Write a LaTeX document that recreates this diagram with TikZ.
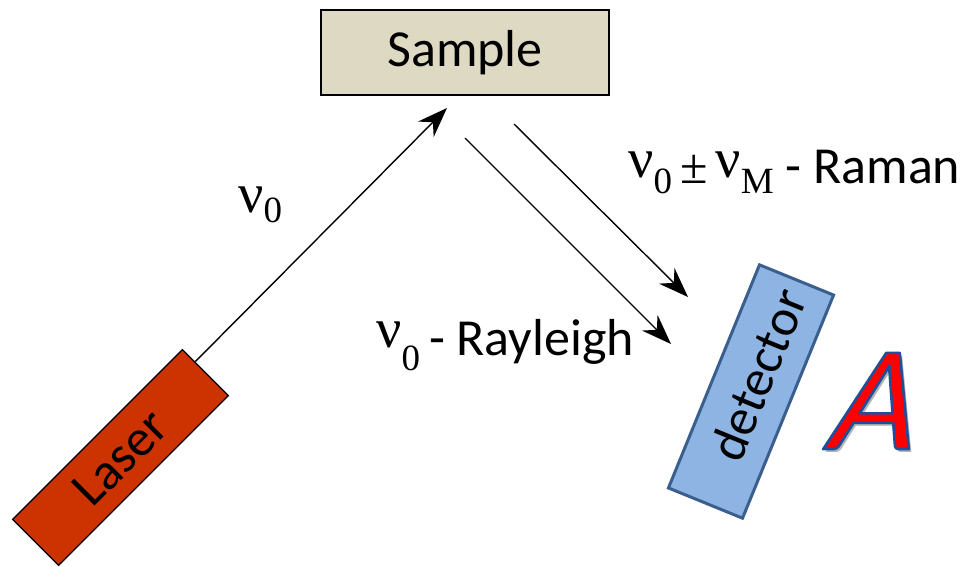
\documentclass[tikz,border=0pt]{standalone}
\usepackage{fontspec}
\setmainfont{Carlito}
\newfontfamily\tnr{Liberation Serif}
\newfontfamily\aitfont[FakeSlant=0.28]{Carlito}
\usetikzlibrary{arrows.meta,calc}
\definecolor{laserred}{HTML}{CC3300}
\definecolor{sampfill}{HTML}{DDD9C3}
\definecolor{detfill}{HTML}{8EB4E3}
\definecolor{detline}{HTML}{3B5F8D}
\definecolor{aout}{HTML}{1F4E9A}
\newcommand\nuglyph{{\tnr\fontsize{56}{60}\selectfont ν}}
\newcommand\subsc[1]{{\tnr\fontsize{37}{40}\selectfont #1}}
\newcommand\outlinedA{\special{pdf:literal direct 0.12 0.31 0.6 RG 2.6 w 1 j 2 Tr}A\special{pdf:literal direct 0 Tr}}
\begin{document}
\begin{tikzpicture}[x=1pt,y=-1pt,
  lbl/.style={font=\fontsize{52}{60}\selectfont, inner sep=0pt, anchor=base west},
  ray/.style={line width=1.4pt, -{Stealth[length=30pt,width=22pt,inset=10pt]}},
  boxtext/.style={font=\fontsize{52}{60}\selectfont, inner sep=0pt},
  bigA/.style={font=\aitfont\fontsize{150}{160}\selectfont, inner sep=0pt}]
\useasboundingbox (0,0) rectangle (961,566);
% Sample
\node[boxtext, draw=black, line width=1.5pt, fill=sampfill, minimum width=288pt, minimum height=85pt] (sample) at (465,52.5) {Sample};
% Laser
\node[boxtext, draw=black, line width=1.2pt, fill=laserred, minimum width=240pt, minimum height=65pt, rotate=45] (laser) at (120.5,457.5) {Laser};
% Detector
\node[boxtext, draw=detline, line width=3pt, fill=detfill, minimum width=241pt, minimum height=80pt, rotate=67.8] (det) at (751,391.5) {\hspace*{36pt}detector};
% coordinates
\coordinate (lstart) at ($(laser.east)!0.45!(laser.north east)$);
\coordinate (inc) at (447,108);
\coordinate (ramS) at (514,124);
\coordinate (ramE) at (688,297);
\coordinate (rayS) at (465,138);
\coordinate (rayE) at (671,344);
\draw[ray] (lstart) -- (inc);
\draw[ray] (ramS) -- (ramE);
\draw[ray] (rayS) -- (rayE);
% labels
\node[lbl] (nu0) at (238,212) {\nuglyph\raisebox{-10pt}{\subsc{0}}};
\node[lbl] (raman) at (628,183) {\raisebox{6pt}{\nuglyph}\raisebox{-10pt}{\subsc{0}}\hspace{8pt}{\tnr\fontsize{50}{60}\selectfont ±}\hspace{8pt}\raisebox{6pt}{\nuglyph}\raisebox{-10pt}{\subsc{M}}\hspace{12pt}- Raman};
\node[lbl] (rayl) at (376,355) {\raisebox{8pt}{\nuglyph}\raisebox{-15pt}{\subsc{0}}\hspace{9pt}- Rayleigh};
% A
\node[bigA, text=black!30] (ashadow) at (869,404) {A};
\node[bigA, text=red] (bigA) at (866,401) {\outlinedA};
\end{tikzpicture}
\end{document}
